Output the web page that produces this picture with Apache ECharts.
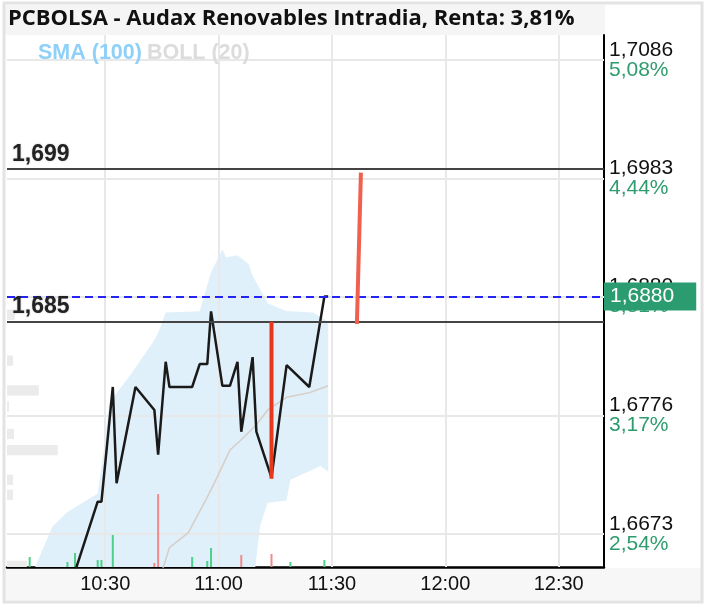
<!DOCTYPE html>
<html><head><meta charset="utf-8">
<script src="https://cdn.jsdelivr.net/npm/echarts@6/dist/echarts.min.js"></script>
<style>html,body{margin:0;padding:0;background:#fff}#c{width:708px;height:608px}</style>
</head><body><div id="c"></div>
<script>
const titleText = 'PCBOLSA - Audax Renovables Intradia, Renta: 3,81%';

const xRange = ['10:04', '12:42'];
const xTicks = ['10:30', '11:00', '11:30', '12:00', '12:30'];
const yRange = [1.6644, 1.7108];
const yTicks = [1.6673, 1.6776, 1.6880, 1.6983, 1.7086];
const yTickLabels = ['1,6673', '1,6776', '1,6880', '1,6983', '1,7086'];
const yTickPcts = ['2,54%', '3,17%', '3,81%', '4,44%', '5,08%'];

const priceTimes = ['10:22','10:28','10:29','10:32','10:33','10:38','10:43','10:44','10:46','10:47','10:53','10:55','10:57','10:58','11:01','11:03','11:05','11:06','11:09','11:10','11:14','11:18','11:24','11:28','11:29'];
const priceValues = [1.6640,1.6701,1.6701,1.6801,1.6717,1.6801,1.6781,1.6742,1.6823,1.6801,1.6801,1.6821,1.6821,1.6867,1.6802,1.6802,1.6823,1.6762,1.6827,1.6762,1.6722,1.6820,1.6801,1.6880,1.6880];

const bandTimes = ['10:10','10:16','10:20','10:28','10:30','10:31','10:37','10:43','10:44','10:46','10:55','10:58','11:01','11:02','11:05','11:08','11:09','11:11','11:13','11:18','11:19','11:25','11:27','11:29'];
const bandUpper = [1.6633,1.6679,1.6692,1.6708,1.6755,1.6787,1.6813,1.6842,1.6848,1.6866,1.6867,1.6901,1.6921,1.6914,1.6916,1.6908,1.6898,1.6886,1.6874,1.6867,1.6867,1.6866,1.6862,1.6858];
const bandLower = [1.6600,1.6600,1.6600,1.6600,1.6600,1.6600,1.6600,1.6600,1.6600,1.6600,1.6600,1.6600,1.6600,1.6600,1.6600,1.6600,1.6624,1.6680,1.6700,1.6702,1.6720,1.6729,1.6732,1.6727];

const smaTimes = ['10:45','10:47','10:52','10:57','10:59','11:03','11:06','11:10','11:13','11:18','11:24','11:29'];
const smaValues = [1.6640,1.6661,1.6674,1.6705,1.6718,1.6746,1.6755,1.6768,1.6781,1.6792,1.6796,1.6802];

const volTimes = ['10:10','10:20','10:22','10:28','10:29','10:32','10:43','10:44','10:53','10:57','10:58','11:06','11:14','11:19','11:28'];
const volValues = [1880,940,2630,1320,1320,6020,750,13700,1880,1130,3570,2260,2440,940,1320];
const volSide = ['b','b','b','b','b','b','s','s','b','b','b','s','s','b','b'];

const profilePrices = [1.6864,1.6824,1.6798,1.6784,1.6760,1.6746,1.6720,1.6707,1.6645];
const profileVolumes = [800,600,3200,200,700,5100,600,600,2000];

const spikeATimes = ['11:14','11:14'];
const spikeAPrices = [1.6858,1.6721];
const spikeBTimes = ['11:37:40','11:36:36'];
const spikeBPrices = [1.6988,1.6856];

const levelValues = [1.6991, 1.6858];
const levelLabels = ['1,699', '1,685'];
const lastPrice = 1.6880;
const lastLabel = '1,6880';

const toMin = s => { const p = s.split(':').map(Number); return p[0] * 60 + p[1] + (p[2] || 0) / 60; };
const fmtTime = m => { const h = Math.floor(m / 60), mm = Math.round(m - h * 60); return h + ':' + String(mm).padStart(2, '0'); };
const pairs = (ts, vs) => ts.map((t, i) => [toMin(t), vs[i]]);

const FONT = 'Liberation Sans';
const chart = echarts.init(document.getElementById('c'), null, {renderer: 'canvas'});

const option = {
  animation: false,
  backgroundColor: '#ffffff',
  graphic: [
    {type: 'rect', z: -10, shape: {x: 5, y: 5, width: 600, height: 30}, style: {fill: '#f5f5f5'}, silent: true},
    {type: 'rect', z: -10, shape: {x: 5, y: 568, width: 696, height: 32}, style: {fill: '#f7f7f7'}, silent: true},
    {type: 'rect', z: -9, shape: {x: 4, y: 3, width: 698, height: 599}, style: {fill: null, stroke: '#e3e3e3', lineWidth: 3}, silent: true}
  ],
  title: {
    text: titleText, left: 8, top: 8, padding: 0,
    textStyle: {fontFamily: 'Open Sans', fontWeight: 'bold', fontSize: 22, color: '#111', lineHeight: 22}
  },
  legend: {
    left: 33, top: 42, icon: 'none', itemWidth: 0, itemHeight: 20, itemGap: 0, selectedMode: false, padding: 0,
    textStyle: {fontFamily: FONT, fontWeight: 'bold', fontSize: 21.5},
    data: [
      {name: 'SMA (100)', textStyle: {color: '#8fd0f9'}},
      {name: 'BOLL (20)', textStyle: {color: '#dcdcdc'}}
    ]
  },
  grid: {left: 7, right: 104, top: 35, bottom: 41, outerBoundsMode: 'none'},
  xAxis: [
    {
      type: 'value', min: toMin(xRange[0]), max: toMin(xRange[1]),
      axisLine: {show: true, onZero: false, lineStyle: {color: '#000', width: 2.5}},
      axisTick: {show: false}, splitLine: {show: false},
      axisLabel: {customValues: xTicks.map(toMin), formatter: v => fmtTime(v), fontFamily: FONT, fontSize: 20, color: '#111', margin: 7}
    },
    {type: 'value', min: 0, max: 60000, show: false}
  ],
  yAxis: [
    {
      type: 'value', position: 'right', min: yRange[0], max: yRange[1],
      axisLine: {show: true, onZero: false, lineStyle: {color: '#000', width: 2}},
      axisTick: {show: false}, splitLine: {show: false},
      axisLabel: {
        customValues: yTicks, margin: 5,
        formatter: v => { const i = yTicks.findIndex(t => Math.abs(t - v) < 1e-6); return i < 0 ? '' : '{p|' + yTickLabels[i] + '}\n{g|' + yTickPcts[i] + '}'; },
        rich: {
          p: {fontFamily: FONT, fontSize: 21, color: '#111', lineHeight: 20},
          g: {fontFamily: FONT, fontSize: 21, color: '#2e9c6e', lineHeight: 20}
        }
      }
    },
    {type: 'value', min: 0, max: 100000, show: false}
  ],
  series: [
    {
      name: 'BOLL (20)', type: 'custom', z: 1, clip: true, silent: true,
      itemStyle: {color: '#dcdcdc'},
      encode: {x: 0, y: [1, 2]},
      renderItem: (params, api) => {
        if (params.dataIndex !== 0) return null;
        const up = bandTimes.map((t, i) => api.coord([toMin(t), bandUpper[i]]));
        const lo = bandTimes.map((t, i) => api.coord([toMin(t), bandLower[i]])).reverse();
        return {type: 'polygon', shape: {points: up.concat(lo)}, style: {fill: '#e0f0fb'}};
      },
      data: bandTimes.map((t, i) => [toMin(t), bandUpper[i], bandLower[i]])
    },
    {
      name: 'grid', type: 'line', data: [], z: 1, silent: true,
      markLine: {
        z: 1.5, symbol: 'none', silent: true, precision: 6, label: {show: false},
        lineStyle: {color: '#e8e8e8', width: 2, type: 'solid'},
        data: yTicks.map(v => ({yAxis: v})).concat(xTicks.map(t => ({xAxis: toMin(t)})))
      }
    },
    {
      name: 'profile', type: 'custom', xAxisIndex: 1, yAxisIndex: 0, z: 3, clip: true, silent: true,
      encode: {x: 1, y: 0},
      renderItem: (params, api) => {
        const p = api.value(0), v = api.value(1), h = 0.00045;
        const a = api.coord([0, p + h]), b = api.coord([v, p - h]);
        return {type: 'rect', shape: {x: a[0], y: a[1], width: b[0] - a[0], height: b[1] - a[1]}, style: {fill: '#ebebeb'}};
      },
      data: profilePrices.map((p, i) => [p, profileVolumes[i]])
    },
    {
      name: 'volume', type: 'bar', xAxisIndex: 0, yAxisIndex: 1, z: 3, barWidth: 2, silent: true,
      data: volTimes.map((t, i) => ({value: [toMin(t), volValues[i]], itemStyle: {color: volSide[i] === 'b' ? '#4cd08a' : '#f08a8a'}}))
    },
    {
      name: 'SMA (100)', type: 'line', z: 3, symbol: 'none', silent: true,
      lineStyle: {color: '#d6cfc9', width: 1.6}, itemStyle: {color: '#8fd0f9'},
      data: pairs(smaTimes, smaValues)
    },
    {
      name: 'price', type: 'line', z: 4, symbol: 'none', silent: true,
      lineStyle: {color: '#1a1a1a', width: 2.5},
      data: pairs(priceTimes, priceValues),
      markLine: {
        symbol: 'none', silent: true, precision: 6,
        data: levelValues.map((v, i) => ({
          yAxis: v,
          lineStyle: {color: '#444', width: 2, type: 'solid'},
          label: {show: true, position: 'insideStartTop', distance: [5, 3], formatter: levelLabels[i],
            fontFamily: FONT, fontWeight: 'bold', fontSize: 23, color: '#222',
            textShadowColor: 'rgba(0,0,0,0.25)', textShadowBlur: 2}
        })).concat([{
          yAxis: lastPrice,
          lineStyle: {color: '#2424f2', width: 2, type: [8, 5]},
          label: {show: true, position: 'end', distance: 0, formatter: lastLabel,
            fontFamily: FONT, fontSize: 21, color: '#fff', backgroundColor: '#2a9c70',
            padding: [4, 22, 3, 6], lineHeight: 21}
        }])
      }
    },
    {
      name: 'spikeA', type: 'line', z: 5, symbol: 'none', silent: true,
      lineStyle: {color: '#e8381c', width: 4},
      data: pairs(spikeATimes, spikeAPrices)
    },
    {
      name: 'spikeB', type: 'line', z: 5, symbol: 'none', silent: true,
      lineStyle: {color: '#f0604f', width: 4},
      data: pairs(spikeBTimes, spikeBPrices)
    }
  ]
};
chart.setOption(option);
</script></body></html>
